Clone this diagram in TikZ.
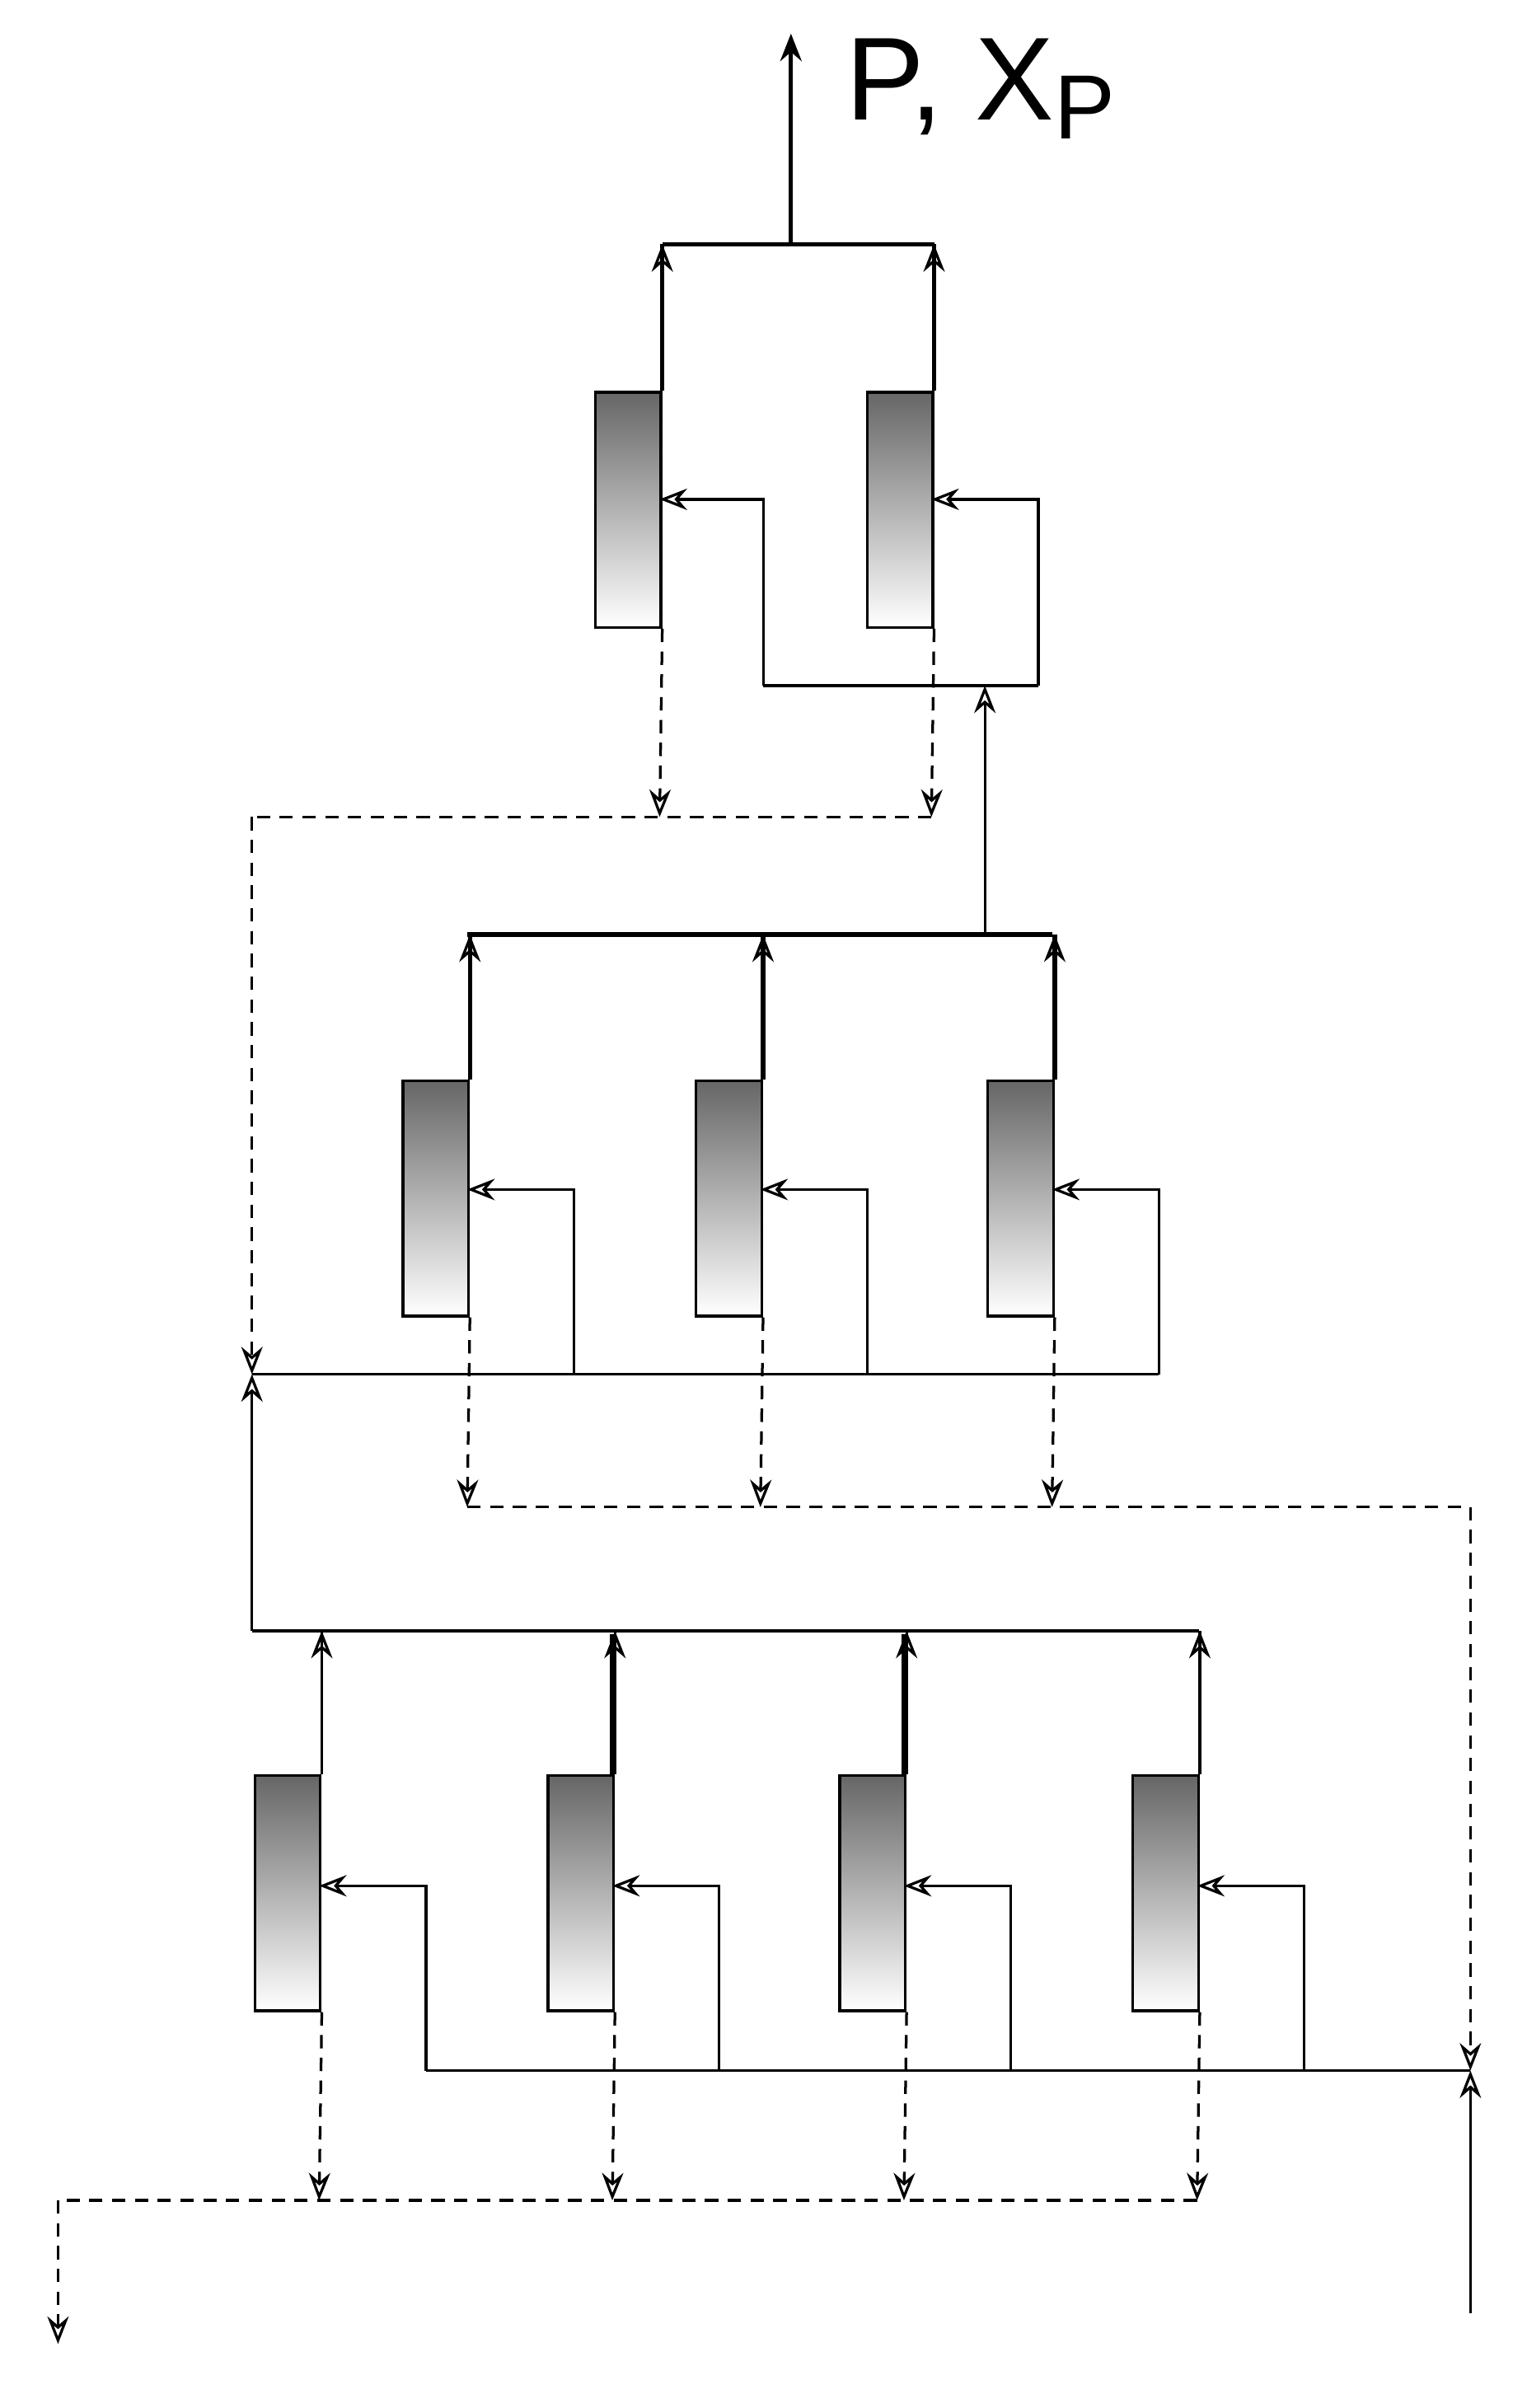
\documentclass[tikz,border=0pt]{standalone}
\usepackage{fontspec}
\setmainfont{Liberation Sans}
\usetikzlibrary{arrows.meta}
\tikzset{
 col/.style={draw,line width=1pt,top color=black!60,bottom color=white,minimum width=0.86cm,minimum height=3.08cm,inner sep=0pt,anchor=north west},
 tip/.style={-{Stealth[open,length=0.36cm,width=0.28cm,inset=0.12cm]}},
 thin/.style={line width=1pt},
 thk/.style={line width=1.6pt},
 dsh/.style={line width=1pt,dash pattern=on 5pt off 3.5pt},
}
\begin{document}
\begin{tikzpicture}[x=0.02cm,y=-0.02cm]
\useasboundingbox (0,0) rectangle (1000,1577);
% top tier
\node[col] (t1) at (389,256) {};
\node[col] (t2) at (567,256) {};
\node[anchor=west,font=\fontsize{44}{50}\selectfont] (lab) at (548,58) {P, X\raisebox{-0.3ex}{\fontsize{34}{40}\selectfont P}};
\coordinate (top) at (518,22);
\coordinate (th) at (518,160);
\draw[thk,tip] (th) -- (top);
\draw[thk] (t1.north east) -- ++(0,-96) coordinate (t1o);
\draw[thk] (t2.north east) -- ++(0,-96) coordinate (t2o);
\draw[thk] (t1o) -- (t2o);
\draw[thin,tip] (t1.north east) -- (t1o);
\draw[thin,tip] (t2.north east) -- (t2o);
\coordinate (tf) at (645,449);
\draw[thin,tip] (500,449) -- (500,327) -- (432,327);
\draw[thin] (500,449) -- (680,449);
\draw[thin,tip] (680,449) -- (680,327) -- (610,327);
% dashed from top
\draw[dsh,tip] (t1.south east) -- (432,535);
\draw[dsh,tip] (t2.south east) -- (610,535);
\draw[dsh] (610,535) -- (165,535);
\coordinate (m1) at (165,900);
\draw[dsh,tip] (165,535) -- (m1);
% middle tier
\foreach \i/\x in {1/263,2/455,3/646}{
 \node[col] (m\i c) at (\x,707) {};
 \draw[thk] (m\i c.north east) -- ++(0,-95);
 \draw[thin,tip] (m\i c.north east) -- ++(0,-95);
 \draw[thin,tip] (\x+113,900) -- (\x+113,779) -- (\x+43,779);
 \draw[dsh,tip] (m\i c.south east) -- (\x+43,987);
}
\draw[thk] (306,612) -- (689,612);
\draw[thin,tip] (645,612) -- (tf);
\draw[thin] (m1) -- (759,900);
\draw[dsh] (306,987) -- (963,987);
\coordinate (b1) at (963,1356);
\draw[dsh,tip] (963,987) -- (b1);
% bottom tier
\draw[thin,tip] (165,1068) -- (m1);
\draw[thin] (165,1068) -- (785,1068);
\foreach \i/\x in {1/166,2/358,3/549,4/741}{
 \node[col] (b\i c) at (\x,1162) {};
 \draw[thin] (b\i c.north east) -- ++(0,-94);
 \draw[thin,tip] (b\i c.north east) -- ++(0,-94);
 \draw[thin,tip] (\x+113,1356) -- (\x+113,1235) -- (\x+43,1235);
 \draw[dsh,tip] (b\i c.south east) -- (\x+43,1441);
}
\draw[thk] (401,1162) -- (401,1070);
\draw[thk] (592,1162) -- (592,1070);
\draw[thin] (279,1356) -- (b1);
\draw[thin,tip] (963,1515) -- (b1);
\draw[dsh] (784,1441) -- (38,1441);
\draw[dsh,tip] (38,1441) -- (38,1535);
\end{tikzpicture}
\end{document}
